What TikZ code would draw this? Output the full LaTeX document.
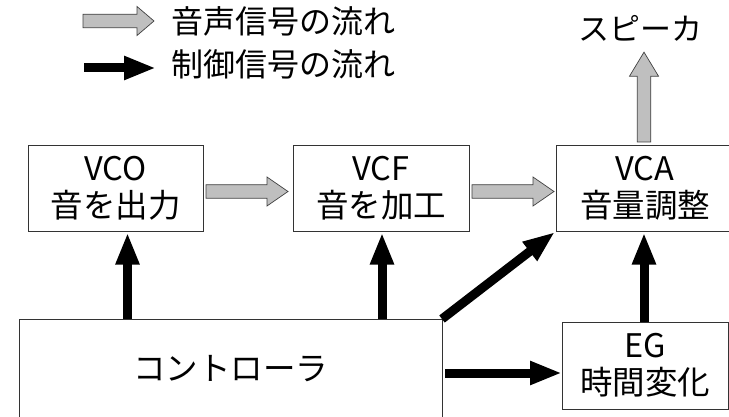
\documentclass[tikz,border=0pt]{standalone}
\usepackage{fontspec}
\setmainfont{Noto Sans CJK JP}
\usetikzlibrary{calc,arrows.meta}
\tikzset{
  blk/.style={draw=black!80, line width=0.8pt, fill=white, outer sep=0pt, inner sep=0pt,
    align=center, font=\fontsize{32.5}{37}\selectfont},
  sig/.style={draw=black!75, line width=0.7pt, fill=black!25, line join=miter},
  ctrl/.style={line width=9pt, black, -{Triangle[width=22pt,length=32pt]}},
  lbl/.style={font=\fontsize{32}{36}\selectfont, inner sep=0pt}
}
\newcommand\sigarrow[3]{%
  \coordinate (hb) at ($(#2)!#3!(#1)$);
  \draw[sig] ($(#1)!6.75pt!90:(#2)$) -- ($(hb)!6.75pt!-90:(#1)$) -- ($(hb)!14.5pt!-90:(#1)$)
    -- (#2) -- ($(hb)!14.5pt!90:(#1)$) -- ($(hb)!6.75pt!90:(#1)$) -- ($(#1)!6.75pt!-90:(#2)$) -- cycle;}
\begin{document}
\begin{tikzpicture}[x=1pt,y=-1pt]
\useasboundingbox (0,0) rectangle (729,417);
\clip (0,0) rectangle (729,417);

% legend
\coordinate (lg1s) at (83,21);
\coordinate (lg1t) at (154,21);
\sigarrow{lg1s}{lg1t}{17pt}
\node[lbl, anchor=west] (l1) at (171,21.5) {音声信号の流れ};
\coordinate (lg2s) at (84,68);
\coordinate (lg2t) at (156,68);
\draw[ctrl] (lg2s) -- (lg2t);
\node[lbl, anchor=west] (l2) at (171,64) {制御信号の流れ};

% boxes
\node[blk, minimum width=175pt, minimum height=86pt] (vco) at (115.5,188) {VCO\\音を出力};
\node[blk, minimum width=176pt, minimum height=86pt] (vcf) at (381,188) {VCF\\音を加工};
\node[blk, minimum width=178pt, minimum height=86pt] (vca) at (645,188) {VCA\\音量調整};
\node[blk, minimum width=166pt, minimum height=87pt] (eg) at (645,365.5) {EG\\時間変化};
\node[blk, minimum width=423pt, minimum height=100pt] (ctl) at (230.5,369) {コントローラ};
\node[lbl, font=\fontsize{31}{36}\selectfont] (spk) at (640,28) {スピーカ};

% signal arrows
\coordinate (s1) at ($(vco.east)+(3,3.5)$);
\coordinate (t1) at ($(vcf.west)+(-5,3.5)$);
\sigarrow{s1}{t1}{21pt}
\coordinate (s2) at ($(vcf.east)+(3,3.5)$);
\coordinate (t2) at ($(vca.west)+(-2,3.5)$);
\sigarrow{s2}{t2}{21pt}
\coordinate (s3) at ($(vca.north)+(-1,-3)$);
\coordinate (t3) at ($(spk.south)+(4,11)$);
\sigarrow{s3}{t3}{24pt}

% control arrows
\coordinate (vcoin) at ($(vco.south)+(12,1.5)$);
\draw[ctrl] (vcoin |- ctl.north) -- (vcoin);
\coordinate (vcfin) at ($(vcf.south)+(1,1.5)$);
\draw[ctrl] (vcfin |- ctl.north) -- (vcfin);
\draw[ctrl] (ctl.north east) -- ($(vca.south west)+(-1,1)$);
\coordinate (vcain) at ($(vca.south)+(-1,1.5)$);
\draw[ctrl] (vcain |- eg.north) -- (vcain);
\coordinate (egin) at ($(eg.west)+(0,7.5)$);
\coordinate (ctlout) at ($(ctl.east |- egin)+(3,0)$);
\draw[ctrl] (ctlout) -- (egin);
\end{tikzpicture}
\end{document}
